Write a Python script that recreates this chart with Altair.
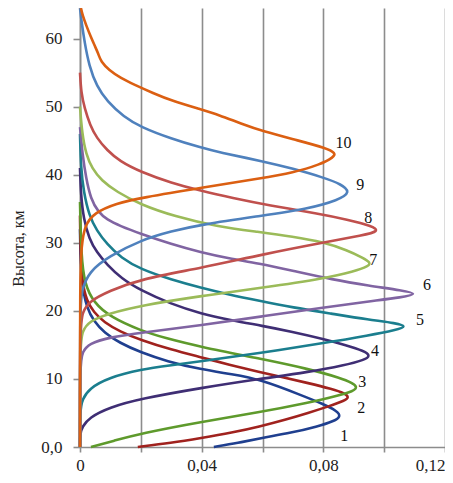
import altair as alt
import pandas as pd

# ---- data (x = value, y = height in km) ----
c1_x = [0.044, 0.052, 0.0595, 0.0696, 0.0780, 0.0835, 0.0858, 0.0845, 0.0800, 0.0728, 0.0595, 0.0500, 0.0397, 0.0285, 0.0200, 0.0130, 0.0080, 0.0045, 0.0022, 0.0008, 0.0002, 0.0]
c1_y = [0.0, 0.6, 1.3, 2.1, 3.0, 3.8, 4.5, 5.3, 6.3, 7.6, 9.9, 10.7, 11.4, 12.6, 13.9, 15.3, 16.8, 18.5, 20.5, 23.5, 27.0, 32.0]

c2_x = [0.019, 0.030, 0.0397, 0.050, 0.059, 0.0675, 0.0750, 0.0820, 0.0870, 0.0885, 0.0870, 0.0830, 0.0750, 0.0670, 0.0590, 0.0490, 0.0397, 0.0300, 0.0200, 0.0130, 0.0080, 0.0045, 0.0022, 0.0008, 0.0002, 0.0]
c2_y = [0.0, 0.6, 1.3, 2.1, 3.0, 4.0, 5.0, 6.0, 6.8, 7.3, 7.9, 8.5, 9.4, 10.2, 11.0, 12.1, 13.2, 14.3, 15.7, 17.0, 18.3, 19.8, 21.5, 24.0, 28.0, 34.0]

c3_x = [0.0036, 0.011, 0.020, 0.0397, 0.059, 0.075, 0.0845, 0.0900, 0.0912, 0.0895, 0.0860, 0.075, 0.059, 0.0397, 0.028, 0.020, 0.010, 0.0045, 0.0015, 0.0004, 0.0]
c3_y = [0.0, 0.9, 2.0, 3.7, 5.1, 6.5, 7.5, 8.2, 8.8, 9.4, 10.1, 11.5, 13.0, 14.7, 16.0, 17.1, 19.1, 21.2, 24.0, 28.0, 36.0]

c4_x = [0.0, 0.0, 0.0008, 0.003, 0.0095, 0.020, 0.040, 0.059, 0.075, 0.0870, 0.0935, 0.0955, 0.0935, 0.0870, 0.0807, 0.069, 0.060, 0.050, 0.0397, 0.030, 0.020, 0.0135, 0.0089, 0.0055, 0.0030, 0.0012, 0.0003, 0.0]
c4_y = [0.0, 2.0, 3.0, 4.3, 5.8, 7.1, 8.7, 10.0, 11.0, 12.0, 12.8, 13.4, 14.1, 15.0, 15.8, 17.0, 17.8, 18.6, 19.6, 21.0, 23.0, 24.8, 26.8, 28.6, 30.6, 33.5, 37.0, 41.0]

c5_x = [0.0, 0.0, 0.0008, 0.003, 0.0095, 0.020, 0.030, 0.040, 0.059, 0.0807, 0.095, 0.1040, 0.1075, 0.1040, 0.095, 0.0826, 0.0700, 0.0587, 0.0490, 0.0397, 0.0300, 0.020, 0.0135, 0.0089, 0.0055, 0.0030, 0.0012, 0.0003, 0.0]
c5_y = [0.0, 5.5, 7.0, 8.6, 10.2, 11.4, 12.0, 12.6, 13.8, 15.3, 16.4, 17.2, 17.7, 18.2, 18.7, 19.6, 20.5, 21.5, 22.4, 23.4, 24.6, 26.1, 27.8, 29.8, 31.8, 34.0, 37.5, 41.0, 46.0]

c6_x = [0.0, 0.0, 0.0008, 0.003, 0.0095, 0.020, 0.040, 0.060, 0.080, 0.095, 0.1060, 0.1112, 0.1060, 0.0950, 0.0830, 0.0700, 0.0587, 0.0490, 0.0397, 0.030, 0.020, 0.0130, 0.0089, 0.0060, 0.0035, 0.0020, 0.0008, 0.0]
c6_y = [0.0, 12.3, 14.0, 15.2, 16.1, 16.8, 17.9, 19.2, 20.5, 21.4, 22.0, 22.5, 23.0, 23.7, 24.6, 25.9, 27.0, 27.7, 28.6, 29.8, 31.3, 32.5, 33.4, 34.5, 36.5, 39.5, 43.0, 47.0]

c7_x = [0.0, 0.0, 0.0008, 0.003, 0.0095, 0.020, 0.040, 0.060, 0.0807, 0.0900, 0.0950, 0.0955, 0.0930, 0.0880, 0.0800, 0.0700, 0.0587, 0.045, 0.031, 0.020, 0.012, 0.0070, 0.0040, 0.0020, 0.0007, 0.0]
c7_y = [0.0, 15.3, 17.0, 18.5, 19.6, 20.8, 22.2, 23.4, 24.8, 25.8, 26.6, 27.1, 27.8, 28.9, 30.1, 30.9, 31.6, 32.4, 33.9, 35.6, 37.5, 39.2, 40.9, 43.0, 46.0, 50.0]

c8_x = [0.0, 0.0, 0.0008, 0.003, 0.0095, 0.020, 0.040, 0.060, 0.0807, 0.0930, 0.0985, 0.0960, 0.0880, 0.0784, 0.0620, 0.0500, 0.0400, 0.0300, 0.0200, 0.0130, 0.0089, 0.0055, 0.0033, 0.0015, 0.0004, 0.0]
c8_y = [0.0, 17.8, 19.8, 21.4, 22.9, 24.7, 26.3, 28.3, 30.1, 31.1, 31.7, 32.5, 33.4, 34.3, 35.5, 36.6, 37.6, 38.8, 40.4, 42.0, 43.6, 45.4, 47.3, 49.8, 52.0, 55.0]

c9_x = [0.0, 0.0, 0.0005, 0.003, 0.0095, 0.020, 0.030, 0.040, 0.060, 0.0750, 0.0850, 0.0890, 0.0860, 0.0800, 0.0700, 0.0600, 0.0456, 0.0397, 0.0300, 0.0200, 0.0144, 0.0089, 0.0055, 0.0030, 0.0015, 0.0005, 0.0]
c9_y = [0.0, 20.5, 23.0, 25.8, 28.0, 30.4, 31.7, 32.7, 34.0, 35.0, 36.3, 37.4, 38.6, 39.6, 40.9, 42.0, 43.3, 44.0, 45.3, 47.0, 48.5, 50.8, 53.0, 56.0, 59.5, 62.5, 64.5]

c10_x = [0.0, 0.0, 0.0005, 0.0015, 0.0046, 0.012, 0.020, 0.040, 0.060, 0.0700, 0.0790, 0.0835, 0.0840, 0.0810, 0.0720, 0.0600, 0.0530, 0.0456, 0.0397, 0.0300, 0.0240, 0.0180, 0.0134, 0.0095, 0.0069, 0.0060, 0.0050, 0.0036, 0.0020, 0.0008, 0.0003]
c10_y = [0.0, 25.5, 29.5, 32.5, 34.4, 35.8, 36.6, 38.1, 39.5, 40.3, 41.5, 42.6, 43.2, 43.9, 45.0, 46.4, 47.5, 48.8, 49.6, 50.9, 52.0, 53.2, 54.2, 55.4, 56.6, 57.8, 58.8, 60.2, 62.0, 63.5, 64.5]

curve_x = [c1_x, c2_x, c3_x, c4_x, c5_x, c6_x, c7_x, c8_x, c9_x, c10_x]
curve_y = [c1_y, c2_y, c3_y, c4_y, c5_y, c6_y, c7_y, c8_y, c9_y, c10_y]
colors = ["#1F3F8F", "#A0221E", "#5E9A2C", "#3F2E74", "#1B7E8E",
          "#8064A2", "#9BBB59", "#C0504D", "#4F81BD", "#DB5F12"]

label_text = ["1", "2", "3", "4", "5", "6", "7", "8", "9", "10"]
label_x = [0.0869, 0.0925, 0.0928, 0.0970, 0.1118, 0.1141, 0.0964, 0.0948, 0.0921, 0.0866]
label_y = [1.6, 5.7, 9.6, 14.1, 18.7, 23.8, 27.5, 33.7, 38.5, 44.6]

x_ticks = [0.0, 0.02, 0.04, 0.06, 0.08, 0.10, 0.12]
y_ticks = [0, 10, 20, 30, 40, 50, 60]

rows = []
for i, (xs, ys) in enumerate(zip(curve_x, curve_y), start=1):
    for k, (xv, yv) in enumerate(zip(xs, ys)):
        rows.append({"s": i, "k": k, "x": xv, "y": yv})
df = pd.DataFrame(rows)
lab = pd.DataFrame({"t": label_text, "x": label_x, "y": label_y})

FONT = "Liberation Serif"
GREY = "#8c8c8c"

xenc = alt.X("x:Q", scale=alt.Scale(domain=[0, 0.12], nice=False, zero=False),
             axis=alt.Axis(values=x_ticks, grid=True, gridColor=GREY, gridWidth=1.6,
                           domainColor=GREY, domainWidth=1.6, tickColor=GREY, tickWidth=1.6,
                           tickSize=5, title=None,
                           labelExpr="round(datum.value*100) % 4 == 0 ? replace(format(datum.value, '.2~f'), '.', ',') : ''",
                           labelAlign={"expr": "datum.value > 0.119 ? 'right' : 'center'"},
                           labelFont=FONT, labelFontSize=17, labelColor="#222222",
                           labelPadding=5))
yenc = alt.Y("y:Q", scale=alt.Scale(domain=[0, 64.5], nice=False, zero=False),
             axis=alt.Axis(values=y_ticks, grid=False, domainColor=GREY, domainWidth=1.6,
                           tickColor=GREY, tickWidth=1.6, tickSize=7,
                           labelExpr="datum.value == 0 ? '0,0' : datum.label",
                           labelFont=FONT, labelFontSize=17, labelColor="#222222",
                           labelPadding=11, title="Высота, км", titleFont=FONT,
                           titleFontSize=16, titleFontWeight="normal", titleColor="#222222",
                           titleX=-62, titleY=240, titleAngle=-90, titleAlign="center",
                           titleBaseline="middle"))

base = alt.Chart(df)
layers = []
for i, c in enumerate(colors, start=1):
    layers.append(
        base.transform_filter(alt.datum.s == i)
        .mark_line(color=c, strokeWidth=2.6, interpolate="basis")
        .encode(x=xenc, y=yenc, order="k:Q")
    )

labels = alt.Chart(lab).mark_text(font=FONT, fontSize=16, color="#111111",
                                  align="center", baseline="middle").encode(
    x="x:Q", y="y:Q", text="t:N")

chart = alt.layer(*layers, labels).properties(
    width=365, height=439,
    padding={"left": 72, "top": 0, "right": 0, "bottom": 27},
    autosize=alt.AutoSizeParams(type="none"),
).configure_view(stroke=None)

chart.save("out.html", embed_options={"renderer": "svg", "actions": False})
